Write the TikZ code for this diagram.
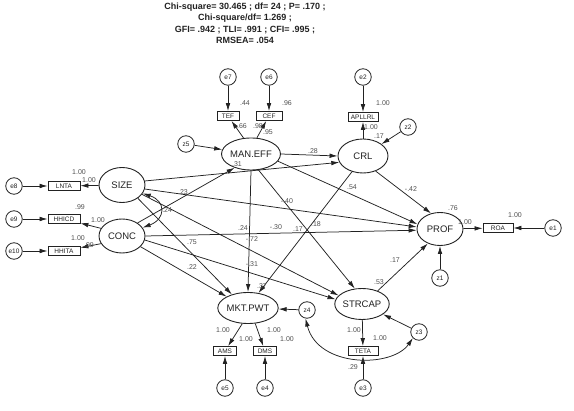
\documentclass[tikz,border=0pt]{standalone}
\usepackage{fontspec}
\setmainfont{Liberation Sans}
\usetikzlibrary{shapes.geometric,arrows.meta}
\definecolor{ln}{HTML}{222222}
\definecolor{lab}{HTML}{505050}
\tikzset{
  lat/.style={ellipse,draw=ln,line width=0.9pt,inner sep=0pt,font=\fontsize{9.5}{10}\selectfont,text=ln},
  obs/.style={rectangle,draw=ln,line width=0.8pt,inner sep=0pt,minimum height=9pt,font=\fontsize{6.5}{7}\selectfont,text=ln},
  err/.style={circle,draw=ln,line width=0.8pt,inner sep=0pt,minimum size=16.5pt,font=\fontsize{6.5}{7}\selectfont,text=ln},
  arr/.style={-{Latex[length=8pt,width=4.6pt]},draw=ln,line width=0.75pt},
  biarr/.style={{Latex[length=8pt,width=4.6pt]}-{Latex[length=8pt,width=4.6pt]},draw=ln,line width=0.75pt},
  lb/.style={font=\fontsize{7}{8}\selectfont,text=lab,inner sep=0pt}
}
\begin{document}
\begin{tikzpicture}[x=1pt,y=-1pt]
\useasboundingbox (0,0) rectangle (574,411);
\node[anchor=north,align=center,font=\bfseries\fontsize{9}{11.2}\selectfont,inner sep=0pt,text=ln] (title) at (245,3)
 {Chi-square= 30.465 ; df= 24 ; P= .170 ;\\Chi-square/df= 1.269 ;\\GFI= .942 ; TLI= .991 ; CFI= .995 ;\\RMSEA= .054};

% latent variables
\node[lat,minimum width=48pt,minimum height=32pt] (MANEFF) at (251,154) {MAN.EFF};
\node[lat,minimum width=50pt,minimum height=34pt] (CRL) at (363,156) {CRL};
\node[lat,minimum width=46pt,minimum height=35pt] (SIZE) at (122,185) {SIZE};
\node[lat,minimum width=46pt,minimum height=34pt] (CONC) at (122,236) {CONC};
\node[lat,minimum width=46pt,minimum height=33pt] (PROF) at (440,229) {PROF};
\node[lat,minimum width=48pt,minimum height=31pt] (MKTPWT) at (248,308) {MKT.PWT};
\node[lat,minimum width=46pt,minimum height=31pt] (STRCAP) at (362,304) {STRCAP};

% observed variables
\node[obs,minimum width=22pt] (TEF) at (228,116) {TEF};
\node[obs,minimum width=26pt] (CEF) at (269,116) {CEF};
\node[obs,minimum width=30pt] (APLLRL) at (363,117) {APLLRL};
\node[obs,minimum width=32pt] (LNTA) at (64,186) {LNTA};
\node[obs,minimum width=32pt] (HHICD) at (64,219) {HHICD};
\node[obs,minimum width=32pt] (HHITA) at (64,251) {HHITA};
\node[obs,minimum width=30pt] (ROA) at (498,228) {ROA};
\node[obs,minimum width=23pt] (AMS) at (225,351) {AMS};
\node[obs,minimum width=23pt] (DMS) at (265,351) {DMS};
\node[obs,minimum width=30pt] (TETA) at (363,351) {TETA};

% error terms
\node[err] (e7) at (228,77) {e7};
\node[err] (e6) at (269,77) {e6};
\node[err] (e2) at (363,77) {e2};
\node[err] (z2) at (408,127) {z2};
\node[err] (z5) at (186,144) {z5};
\node[err] (e8) at (14,186) {e8};
\node[err] (e9) at (14,219) {e9};
\node[err] (e10) at (14,251) {e10};
\node[err] (e1) at (553,228) {e1};
\node[err] (z1) at (440,278) {z1};
\node[err] (z4) at (307,310) {z4};
\node[err] (z3) at (419,332) {z3};
\node[err] (e5) at (225,388) {e5};
\node[err] (e4) at (265,388) {e4};
\node[err] (e3) at (363,388) {e3};

% measurement arrows
\draw[arr] (e7) -- (TEF);
\draw[arr] (e6) -- (CEF);
\draw[arr] (e2) -- (APLLRL);
\draw[arr] (MANEFF.115) -- (TEF);
\draw[arr] (MANEFF.70) -- (CEF);
\draw[arr] (CRL) -- (APLLRL);
\draw[arr] (e8) -- (LNTA);
\draw[arr] (e9) -- (HHICD);
\draw[arr] (e10) -- (HHITA);
\draw[arr] (SIZE) -- (LNTA);
\draw[arr] (CONC.160) -- (HHICD);
\draw[arr] (CONC.200) -- (HHITA);
\draw[arr] (e1) -- (ROA);
\draw[arr] (PROF) -- (ROA);
\draw[arr] (z1) -- (PROF);
\draw[arr] (MKTPWT.-110) -- (AMS);
\draw[arr] (MKTPWT.-65) -- (DMS);
\draw[arr] (e5) -- (AMS);
\draw[arr] (e4) -- (DMS);
\draw[arr] (STRCAP) -- (TETA);
\draw[arr] (e3) -- (TETA);
\draw[arr] (z3) -- (STRCAP);
\draw[arr] (z4) -- (MKTPWT);
\draw[arr] (z2) -- (CRL);
\draw[arr] (z5) -- (MANEFF);

% structural paths
\draw[arr] (MANEFF.east) -- (CRL.west);
\draw[arr] (SIZE.10) -- (CRL.195);
\draw[arr] (CONC.40) -- (MANEFF.220);
\draw[arr] (SIZE.-10) -- (PROF.175);
\draw[arr] (CONC.east) -- (PROF.183);
\draw[arr] (MANEFF.-15) -- (PROF.168);
\draw[arr] (CRL.-50) -- (PROF.120);
\draw[arr] (STRCAP.40) -- (PROF.230);
\draw[arr] (MANEFF.south) -- (MKTPWT.north);
\draw[arr] (MANEFF.-65) -- (STRCAP.115);
\draw[arr] (CRL.-125) -- (MKTPWT.55);
\draw[arr] (SIZE.-40) -- (MKTPWT.140);
\draw[arr] (CONC.-30) -- (MKTPWT.152);
\draw[arr] (SIZE.-25) -- (STRCAP.160);
\draw[arr] (CONC.-10) -- (STRCAP.170);

% covariances
\draw[biarr] (SIZE.-22) .. controls (166,201) and (166,219) .. (CONC.22);
\draw[biarr] (z4.-100) .. controls (318,368) and (392,368) .. (z3.225);

% labels
\node[lb] at (245,103) {.44};
\node[lb] at (242,126) {.66};
\node[lb] at (287,103) {.96};
\node[lb] at (258,126) {.98};
\node[lb] at (268,132) {.95};
\node[lb] at (383,103) {1.00};
\node[lb] at (371,127) {1.00};
\node[lb] at (379,136) {.17};
\node[lb] at (313,151) {.28};
\node[lb] at (237,164) {.31};
\node[lb] at (183,192) {.23};
\node[lb] at (166,210) {-.24};
\node[lb] at (352,187) {.54};
\node[lb] at (411,189) {-.42};
\node[lb] at (287,201) {-.40};
\node[lb] at (243,228) {.24};
\node[lb] at (276,227) {-.30};
\node[lb] at (298,229) {.17};
\node[lb] at (316,224) {.18};
\node[lb] at (252,239) {-.72};
\node[lb] at (192,242) {.75};
\node[lb] at (192,267) {.22};
\node[lb] at (252,264) {-.31};
\node[lb] at (395,260) {.17};
\node[lb] at (379,282) {.53};
\node[lb] at (262,286) {.37};
\node[lb] at (453,208) {.76};
\node[lb] at (465,222) {1.00};
\node[lb] at (515,215) {1.00};
\node[lb] at (79,172) {1.00};
\node[lb] at (89,180) {1.00};
\node[lb] at (80,207) {.99};
\node[lb] at (98,220) {1.00};
\node[lb] at (78,238) {1.00};
\node[lb] at (89,245) {.99};
\node[lb] at (223,330) {1.00};
\node[lb] at (246,339) {1.00};
\node[lb] at (274,330) {1.00};
\node[lb] at (287,339) {1.00};
\node[lb] at (354,330) {1.00};
\node[lb] at (380,338) {1.00};
\node[lb] at (353,367) {.29};
\end{tikzpicture}
\end{document}
